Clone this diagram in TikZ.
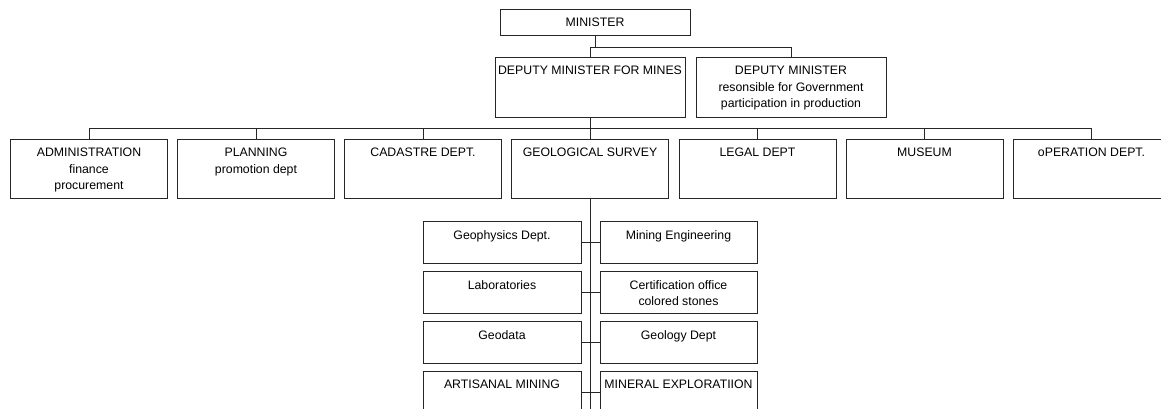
\documentclass[tikz,border=0pt]{standalone}
\usepackage{fontspec}
\setmainfont{Liberation Sans}
\usetikzlibrary{positioning}

\tikzset{
  unit/.style={draw=black!85,line width=0.8pt,minimum width=157pt,minimum height=59pt,inner sep=0pt},
  subunit/.style={unit,minimum height=42pt},
  top/.style={label={[align=center,anchor=north,inner sep=0pt,yshift=-9.3pt,font=\orgfont]north:{#1}}},
  link/.style={draw=black!85,line width=0.8pt}
}
\newcommand{\orgfont}{\fontsize{12.3}{16.4}\selectfont}

\begin{document}
\begin{tikzpicture}[x=1pt,y=-1pt]
  \clip (0,0) rectangle (1161,408);

  % top of the chart
  \node[unit,minimum width=190pt,minimum height=26pt,font=\orgfont] (minister) at (595,22) {MINISTER};
  \node[unit,minimum width=190pt,minimum height=60pt,top={DEPUTY MINISTER FOR MINES}] (depmines) at (590,87) {};
  \node[unit,minimum width=190pt,minimum height=60pt,top={DEPUTY MINISTER\\resonsible for Government\\participation in production}] (depprod) at (791,87) {};

  % departments
  \node[unit,top={ADMINISTRATION\\finance\\procurement}] (admin) at (89,168.5) {};
  \node[unit,top={PLANNING\\promotion dept}] (plan) at (256,168.5) {};
  \node[unit,top={CADASTRE DEPT.}] (cad) at (423,168.5) {};
  \node[unit,top={GEOLOGICAL SURVEY}] (geo) at (590,168.5) {};
  \node[unit,top={LEGAL DEPT}] (legal) at (757.5,168.5) {};
  \node[unit,top={MUSEUM}] (museum) at (924.5,168.5) {};
  \node[unit,top={oPERATION DEPT.}] (oper) at (1091.5,168.5) {};

  % geological survey sections
  \node[subunit,minimum width=158pt,top={Geophysics Dept.}] (geophys) at (502,242) {};
  \node[subunit,top={Mining Engineering}] (mineng) at (678.5,242) {};
  \node[subunit,minimum width=158pt,top={Laboratories}] (labs) at (502,292) {};
  \node[subunit,top={Certification office\\colored stones}] (cert) at (678.5,292) {};
  \node[subunit,minimum width=158pt,top={Geodata}] (geodata) at (502,342) {};
  \node[subunit,top={Geology Dept}] (geology) at (678.5,342) {};
  \node[subunit,minimum width=158pt,top={ARTISANAL MINING}] (artisanal) at (502,392) {};
  \node[subunit,top={MINERAL EXPLORATIION}] (explor) at (678.5,392) {};

  % connectors
  \coordinate (topbus) at (0,47);
  \coordinate (rowbus) at (0,128);
  \coordinate (sectend) at (0,412);
  \draw[link] (minister.south) -- (minister.south |- topbus);
  \draw[link] (depmines.north) -- (depmines.north |- topbus) -- (depprod.north |- topbus) -- (depprod.north);
  \draw[link] (depmines.south) -- (depmines.south |- rowbus);
  \draw[link] (admin.north) -- (admin.north |- rowbus) -- (oper.north |- rowbus) -- (oper.north);
  \foreach \dept in {plan,cad,geo,legal,museum}
    \draw[link] (\dept.north) -- (\dept.north |- rowbus);
  \draw[link] (geo.south) -- (geo.south |- sectend);
  \draw[link] (geophys.east) -- (mineng.west);
  \draw[link] (labs.east) -- (cert.west);
  \draw[link] (geodata.east) -- (geology.west);
  \draw[link] (artisanal.east) -- (explor.west);
\end{tikzpicture}
\end{document}
